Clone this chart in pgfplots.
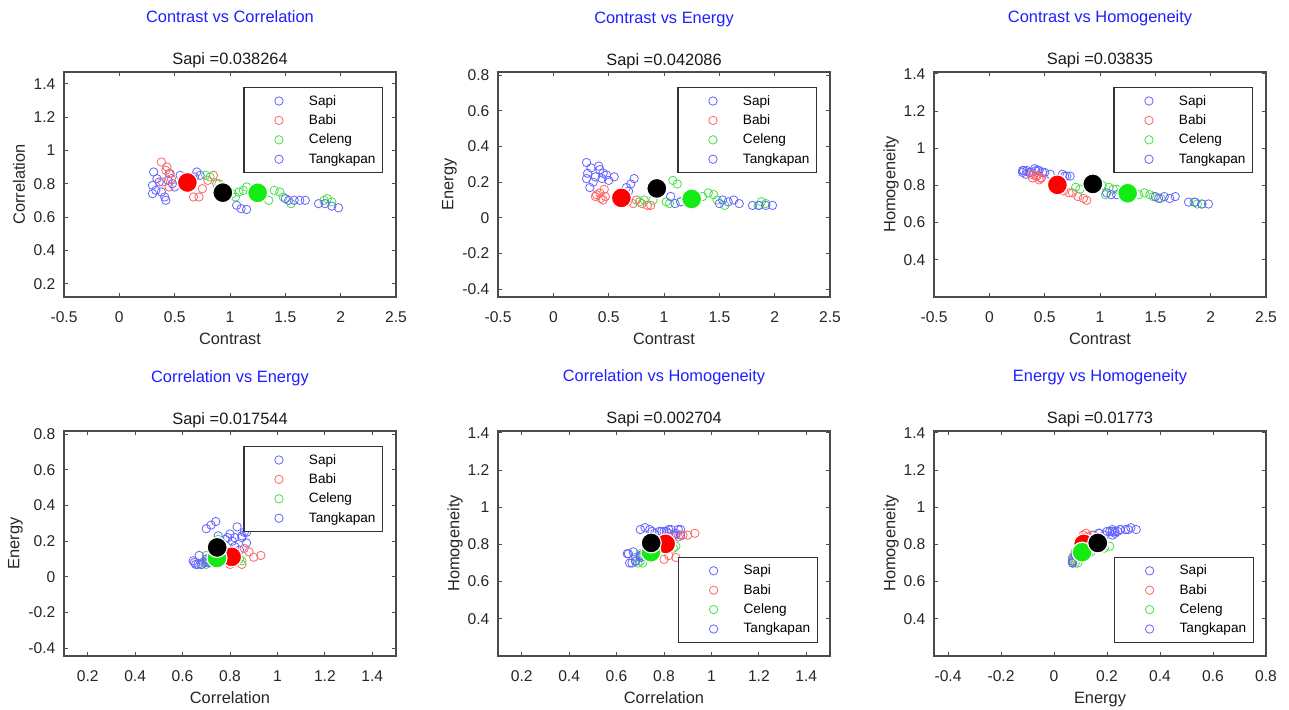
\documentclass[border=0pt]{standalone}
\usepackage{fontspec}
\setmainfont{Liberation Sans}
\usepackage{pgfplots}
\usepackage{pgfplotstable}
\pgfplotsset{compat=1.18}

\definecolor{mb}{RGB}{100,100,255}
\definecolor{mr}{RGB}{255,100,100}
\definecolor{mg}{RGB}{70,225,70}
\definecolor{cr}{RGB}{255,0,0}
\definecolor{cg}{RGB}{20,235,20}
\definecolor{tb}{RGB}{30,30,255}

% c = Contrast, r = Correlation, e = Energy, h = Homogeneity
\pgfplotstableread{
c r e h
0.30 0.74 0.31 0.88
0.31 0.87 0.25 0.88
0.30 0.79 0.22 0.87
0.33 0.76 0.17 0.86
0.36 0.81 0.20 0.87
0.41 0.72 0.29 0.89
0.42 0.70 0.27 0.88
0.48 0.80 0.24 0.87
0.55 0.85 0.23 0.86
0.45 0.86 0.25 0.88
0.70 0.87 0.19 0.85
0.73 0.85 0.22 0.85
0.66 0.82 0.17 0.86
0.34 0.83 0.28 0.88
0.38 0.75 0.23 0.87
0.50 0.78 0.21 0.87
0.44 0.82 0.22 0.88
0.68 0.84 0.15 0.85
}\sapi
\pgfplotstableread{
c r e h
0.38 0.93 0.12 0.86
0.43 0.90 0.11 0.85
0.46 0.86 0.16 0.84
0.39 0.81 0.13 0.84
0.45 0.78 0.10 0.83
0.67 0.72 0.09 0.77
0.72 0.72 0.08 0.76
0.85 0.85 0.07 0.73
0.88 0.80 0.07 0.72
0.75 0.77 0.10 0.76
0.42 0.88 0.14 0.85
0.80 0.82 0.08 0.74
0.47 0.83 0.12 0.84
}\babi
\pgfplotstableread{
c r e h
0.78 0.85 0.09 0.79
0.82 0.84 0.10 0.78
1.02 0.74 0.09 0.80
1.08 0.75 0.21 0.79
1.12 0.76 0.19 0.78
1.05 0.72 0.08 0.75
1.35 0.70 0.12 0.75
1.40 0.76 0.14 0.76
1.45 0.75 0.13 0.75
1.55 0.68 0.07 0.73
1.85 0.70 0.07 0.71
1.92 0.69 0.08 0.70
0.90 0.80 0.10 0.79
1.15 0.78 0.09 0.78
1.48 0.72 0.10 0.74
1.88 0.71 0.09 0.70
}\celeng
\pgfplotstableread{
c r e h
1.06 0.67 0.12 0.76
1.10 0.65 0.08 0.75
1.15 0.645 0.09 0.75
1.50 0.71 0.08 0.74
1.53 0.70 0.10 0.73
1.58 0.70 0.09 0.74
1.63 0.70 0.10 0.73
1.68 0.70 0.08 0.74
1.80 0.68 0.07 0.71
1.86 0.68 0.07 0.71
1.92 0.665 0.07 0.70
1.98 0.655 0.07 0.70
}\tangkapan
\pgfplotstableread{
c r e h
0.615 0.807 0.112 0.803
}\cbabi
\pgfplotstableread{
c r e h
1.25 0.745 0.106 0.758
}\cceleng
\pgfplotstableread{
c r e h
0.935 0.746 0.165 0.808
}\ctest

\pgfplotsset{
  gl/.style={
    scale only axis, width=166pt, height=112.5pt, anchor=south west,
    clip mode=individual,
    axis line style={black!70, line width=0.55pt},
    tick align=inside, major tick length=2.2pt,
    tick style={black!70, line width=0.45pt},
    minor tick num=0,
    /pgf/number format/assume math mode=true,
    ticklabel style={font=\fontsize{7.8}{9}\selectfont, text=black!85},
    xticklabel style={yshift=-3.8pt},
    yticklabel style={xshift=-0.8pt},
    label style={font=\fontsize{8.2}{10}\selectfont, text=black!85},
    xlabel style={at={(axis description cs:0.5,0)}, anchor=base, yshift=-24pt},
    legend cell align=left,
    legend style={draw=black!80, line width=0.55pt, fill=white,
      inner xsep=1.75pt, inner ysep=2.7pt, row sep=1.7pt,
      font=\fontsize{6.8}{8}\selectfont,
      nodes={inner xsep=1.75pt, inner ysep=0pt, text height=6pt, text depth=2pt}},
    legend image code/.code={\path[draw=none, fill=none] (-15.75pt,-4pt) rectangle (13.25pt,4pt);
      \draw[##1] plot coordinates {(0pt,0pt)};},
  },
  lne/.style={legend style={at={(axis description cs:0.961,0.933)}, anchor=north east}},
  lse/.style={legend style={at={(axis description cs:0.963,0.058)}, anchor=south east}},
  xc/.style={xmin=-0.5, xmax=2.5, xtick={-0.5,0,0.5,1,1.5,2,2.5}, xlabel={Contrast}},
  xr/.style={xmin=0.1, xmax=1.5, xtick={0.2,0.4,0.6,0.8,1,1.2,1.4}, xlabel={Correlation}},
  xe/.style={xmin=-0.453, xmax=0.8, xtick={-0.4,-0.2,0,0.2,0.4,0.6,0.8}, xlabel={Energy}},
  yr/.style={ymin=0.12, ymax=1.47, ytick={0.2,0.4,0.6,0.8,1,1.2,1.4}, ylabel={Correlation},
    ylabel style={at={(axis description cs:-0.1355,0.5)}, anchor=center}},
  ye/.style={ymin=-0.443, ymax=0.817, ytick={-0.4,-0.2,0,0.2,0.4,0.6,0.8}, ylabel={Energy},
    ylabel style={at={(axis description cs:-0.146,0.5)}, anchor=center}},
  yh/.style={ymin=0.2, ymax=1.41, ytick={0.4,0.6,0.8,1,1.2,1.4}, ylabel={Homogeneity},
    ylabel style={at={(axis description cs:-0.1295,0.5)}, anchor=center}},
  sc/.style={only marks, mark=o, mark size=2.1pt, line width=0.4pt},
  cen/.style={only marks, mark=*, mark size=5pt, forget plot,
    mark options={draw=white, line width=0.6pt}},
}

\newcommand{\drawall}[2]{%
  \addplot[sc, mb] table[x=#1,y=#2]{\sapi}; \addlegendentry{Sapi}
  \addplot[sc, mr] table[x=#1,y=#2]{\babi}; \addlegendentry{Babi}
  \addplot[sc, mg] table[x=#1,y=#2]{\celeng}; \addlegendentry{Celeng}
  \addplot[sc, mb] table[x=#1,y=#2]{\tangkapan}; \addlegendentry{Tangkapan}
  \addplot[cen, color=cr] table[x=#1,y=#2]{\cbabi};
  \addplot[cen, color=cg] table[x=#1,y=#2]{\cceleng};
  \addplot[cen, color=black] table[x=#1,y=#2]{\ctest};
}
\newcommand{\ttl}[2]{%
  \node[anchor=base, yshift=24.5pt, font=\fontsize{8.2}{10}\selectfont, text=tb]
    at (axis description cs:0.5,1) {#1};
  \node[anchor=base, yshift=3.5pt, font=\fontsize{8.2}{10}\selectfont, text=black!90]
    at (axis description cs:0.5,1) {#2};
}

\begin{document}
\begin{tikzpicture}
\useasboundingbox (0,0) rectangle (644.5pt,355pt);

\begin{axis}[gl, lne, xc, yr, at={(32pt,206.5pt)}]
  \drawall{c}{r}
  \ttl{Contrast vs Correlation}{Sapi =0.038264}
\end{axis}

\begin{axis}[gl, lne, xc, ye, at={(249pt,206.5pt)}]
  \drawall{c}{e}
  \ttl{Contrast vs Energy}{Sapi =0.042086}
\end{axis}

\begin{axis}[gl, lne, xc, yh, at={(467pt,206.5pt)}]
  \drawall{c}{h}
  \ttl{Contrast vs Homogeneity}{Sapi =0.03835}
\end{axis}

\begin{axis}[gl, lne, xr, ye, at={(32pt,27pt)}]
  \drawall{r}{e}
  \ttl{Correlation vs Energy}{Sapi =0.017544}
\end{axis}

\begin{axis}[gl, lse, xr, yh, at={(249pt,27pt)}]
  \drawall{r}{h}
  \ttl{Correlation vs Homogeneity}{Sapi =0.002704}
\end{axis}

\begin{axis}[gl, lse, xe, yh, at={(467pt,27pt)}]
  \drawall{e}{h}
  \ttl{Energy vs Homogeneity}{Sapi =0.01773}
\end{axis}

\end{tikzpicture}
\end{document}
